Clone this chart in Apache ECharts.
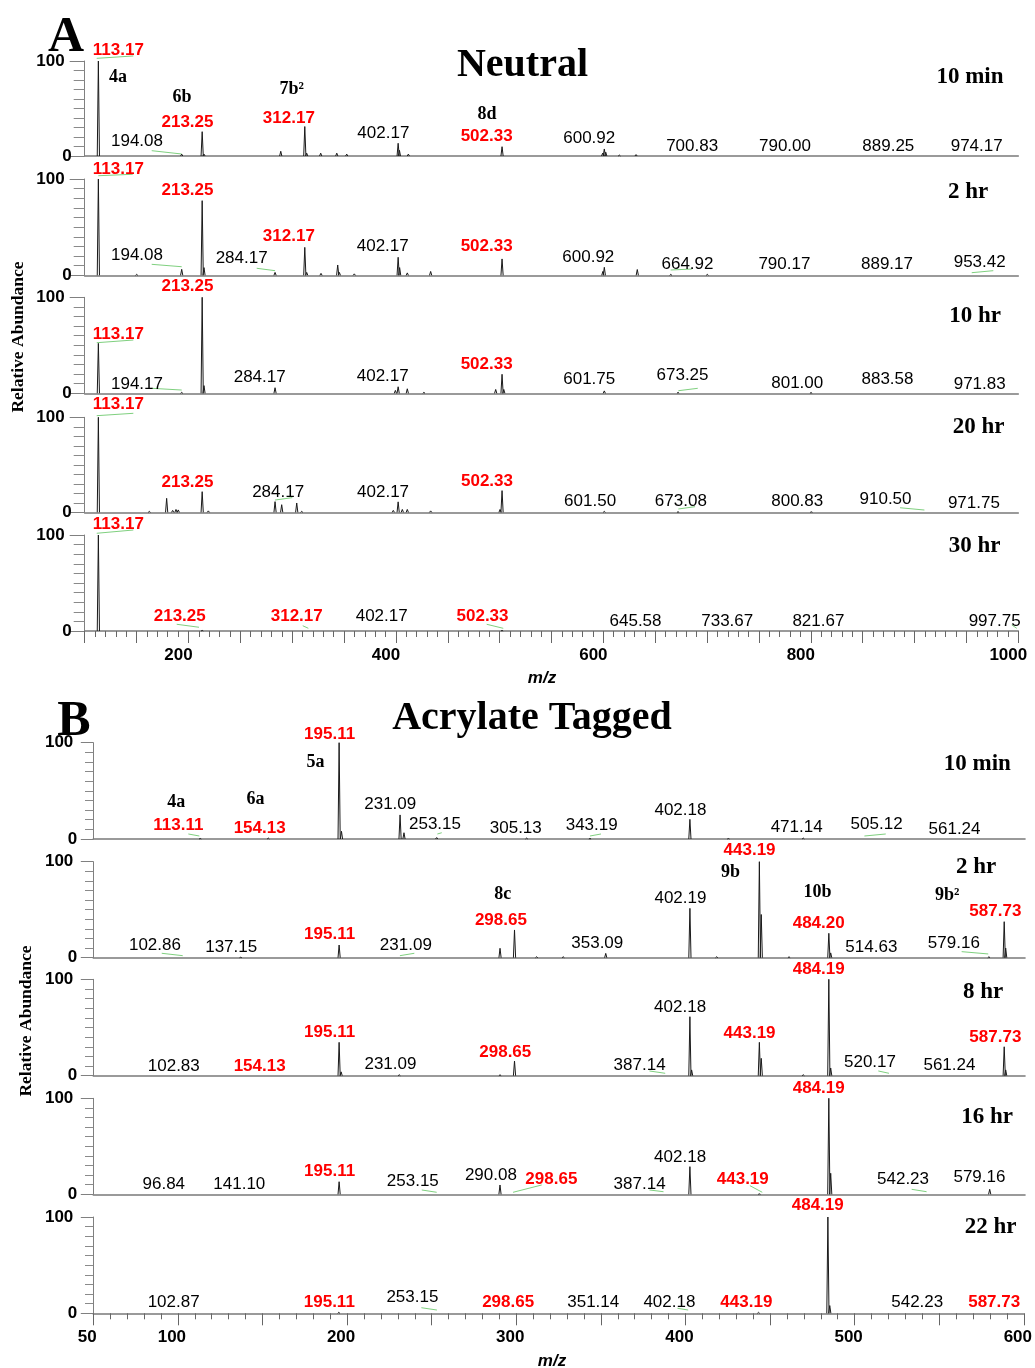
<!DOCTYPE html>
<html><head><meta charset="utf-8">
<script src="https://cdn.jsdelivr.net/npm/echarts@6/dist/echarts.min.js"></script>
<style>html,body{margin:0;padding:0;background:#fff}#c{width:1035px;height:1368px}</style>
</head><body><div id="c"></div>
<script>
// ---------------- DATA ----------------
// Panel A (Neutral) peaks: [m/z, relative abundance %]
const peaksA10min = [[113.17,100],[193.5,2],[213.25,25.6],[215,2],[289,5],[312.17,31],[314,3],[327.5,3],[343,3],[352.6,2],[402.17,13.4],[403.4,6],[412,2],[502.33,9.8],[599.3,3],[600.92,7.4],[602.3,4],[615.4,1],[631.5,1.5]];
const peaksA2hr = [[113.17,100],[150.1,1],[193.5,6.2],[213.25,77.5],[215,8],[283.5,3],[312.17,29],[314,3],[327.8,2],[343.9,10.7],[345.5,3],[359.9,1.5],[402.17,18.7],[403.6,8],[411,2.5],[433.5,4],[502.33,17],[599.5,4],[600.92,8.3],[632.7,6],[665,1],[700.2,1]];
const peaksA10hr = [[113.17,52],[193.5,1],[213.25,100],[215,8],[283.5,5.8],[399.5,3],[402.17,6.8],[411,4.7],[427,1],[496.2,4],[502.33,19.8],[504,4],[600.9,2.5],[672,1],[800.2,0.8]];
const peaksA20hr = [[113.17,100],[162.3,1],[179,14.7],[184.8,2],[188,3],[190.2,2.5],[213.25,21.7],[219.2,1.5],[283.5,11.2],[289.9,8],[304.4,9.8],[309.2,1],[397.5,2],[402.17,11],[406.2,3],[411,3],[433.5,1.5],[500.4,3],[502.33,22.8],[600.9,1],[672,0.5],[800.5,0.5]];
const peaksA30hr = [[113.17,100],[213.25,0.6],[502.33,0.6]];
// Panel B (Acrylate Tagged) peaks
const peaksB10min = [[113.11,0.5],[153.3,1],[195.11,100],[196.5,8],[231.09,25],[233.4,6.5],[252.7,1.5],[305.8,1],[343.2,0.5],[402.18,20.4],[424.9,0.5],[469.1,1]];
const peaksB2hr = [[137,0.5],[195.11,13.2],[290.1,9.8],[298.65,28.9],[311.7,1],[327.4,1],[352.5,4.5],[402.19,51.4],[418,1],[443.19,100],[444.3,45],[460.7,1],[484.2,25.4],[485.3,5],[578.7,1],[587.73,37.5],[588.6,10]];
const peaksB8hr = [[195.11,34.6],[196.3,4],[230.6,1],[290.1,1],[298.65,15.2],[402.18,61.2],[403.2,6],[443.19,34.6],[444.3,18],[469.1,1],[484.19,100],[485.3,8],[587.73,30],[588.6,6]];
const peaksB16hr = [[195.11,13.1],[290.08,9.7],[402.18,28.8],[443.19,0.5],[484.19,100],[485.3,21.9],[579.16,5.2]];
const peaksB22hr = [[195.11,1],[443.19,1],[484.19,100],[485.3,8]];

// Peak annotations: [text, m/z anchor, abundance anchor, kind] kind 0=plain, 1=red, 2=compound id
const labelsA10min = [['113.17',132.4,104.5,1],['4a',132.2,76.5,2],['6b',193.8,55.5,2],['213.25',199.1,29.2,1],['194.08',150.4,9.1,0],['7b²',299.6,64,2],['312.17',296.8,33.7,1],['402.17',387.9,17.5,0],['8d',487.8,37.9,2],['502.33',487.5,14,1],['600.92',586.4,12.6,0],['700.83',685.6,3.5,0],['790.00',775.1,3.5,0],['889.25',874.7,3.5,0],['974.17',959.9,3.5,0]];
const labelsA2hr = [['113.17',132.4,104.2,1],['213.25',199.1,81.6,1],['194.08',150.4,14.1,0],['284.17',251.3,11.7,0],['312.17',296.8,33.9,1],['402.17',387.3,23.5,0],['502.33',487.5,23.5,1],['600.92',585.5,12.5,0],['664.92',681.1,4.8,0],['790.17',774.5,4.8,0],['889.17',873.4,4.8,0],['953.42',962.8,7.3,0]];
const labelsA10hr = [['113.17',132.4,55.5,1],['213.25',199.1,104.8,1],['194.17',150.4,3.4,0],['284.17',268.7,10.4,0],['402.17',387.3,11,0],['502.33',487.5,24.3,1],['601.75',586.4,8.6,0],['673.25',676.3,12.1,0],['801.00',786.9,4.2,0],['883.58',873.9,8.6,0],['971.83',962.8,3.4,0]];
const labelsA20hr = [['113.17',132.4,107.7,1],['213.25',199.1,25.3,1],['284.17',286.5,14.7,0],['402.17',387.6,14.7,0],['502.33',487.8,26.6,1],['601.50',587.2,5.3,0],['673.08',674.7,5.3,0],['800.83',786.9,5.3,0],['910.50',872,7.7,0],['971.75',957.2,3.5,0]];
const labelsA30hr = [['113.17',132.4,104.5,1],['213.25',191.6,9,1],['312.17',304.4,9,1],['402.17',386.3,9,0],['502.33',483.5,9,1],['645.58',631,3.9,0],['733.67',719.4,3.9,0],['821.67',807.3,3.9,0],['997.75',977.2,3.9,0]];
const labelsB10min = [['4a',98.9,31.9,2],['6a',145.7,35.3,2],['5a',181.2,73.4,2],['113.11',100.2,7.6,1],['154.13',148.2,5.2,1],['195.11',189.5,102.8,1],['231.09',225.3,29.4,0],['253.15',251.7,8.6,0],['305.13',299.4,5.2,0],['343.19',344.2,7.6,0],['402.18',396.6,23.9,0],['471.14',465.2,5.9,0],['505.12',512.4,8.6,0],['561.24',558.4,4.2,0]];
const labelsB2hr = [['102.86',86.4,7,0],['137.15',131.4,4.5,0],['195.11',189.5,17.7,1],['231.09',234.5,6.3,0],['8c',291.7,60.1,2],['298.65',290.6,33,1],['353.09',347.5,8.7,0],['402.19',396.6,55.9,0],['9b',426.1,82.7,2],['443.19',437.4,105.2,1],['10b',477.5,61.9,2],['484.20',478.2,29.9,1],['514.63',509.3,4.5,0],['9b²',554.1,58.4,2],['579.16',558,8.7,0],['587.73',582.5,41.7,1]];
const labelsB8hr = [['102.83',97.5,3.5,0],['154.13',148.2,3.5,1],['195.11',189.5,38.8,1],['231.09',225.4,5.9,0],['298.65',293.2,18,1],['387.14',372.5,4.9,0],['402.18',396.4,64.7,0],['443.19',437.4,38.1,1],['484.19',478.2,103.7,1],['520.17',508.5,7.7,0],['561.24',555.4,4.9,0],['587.73',582.5,33.6,1]];
const labelsB16hr = [['96.84',91.6,4.5,0],['141.10',136.2,4.5,0],['195.11',189.5,17.3,1],['253.15',238.6,7.3,0],['290.08',284.7,13.1,0],['298.65',320.4,9.7,1],['387.14',372.5,4.5,0],['402.18',396.4,32.3,0],['443.19',433.4,9.7,1],['484.19',478.2,104.2,1],['542.23',528,9,0],['579.16',573.1,11.4,0]];
const labelsB22hr = [['102.87',97.5,5.2,0],['195.11',189.5,5.2,1],['253.15',238.6,10.4,0],['298.65',295.2,5.2,1],['351.14',345.5,5.2,0],['402.18',390.5,5.2,0],['443.19',436,5.2,1],['484.19',478.2,105.5,1],['542.23',537,5.2,0],['587.73',582.5,5.2,1]];

// Leader lines from annotations to peaks: [m/z1, ab1, m/z2, ab2]
const leadersA10min = [[111.6,102.8,146.9,105.3],[164.6,5.6,193.5,2.1]];
const leadersA2hr = [[113.1,103.4,146.3,104.9],[164.6,11.4,193.5,8.9],[265.8,7.3,283.5,4.8],[664.9,5.5,685.2,6.5],[955.1,2.7,975.9,4.8]];
const leadersA10hr = [[111.6,52.7,146.9,55.5],[164.6,5.2,193.5,3.4],[672.3,2.7,691,5.2]];
const leadersA20hr = [[111.6,101.7,146.9,104.2],[283.5,12.9,300.1,15.4],[672.3,3.5,688.4,5.9],[886,4.8,909.5,2.4]];
const leadersA30hr = [[111.6,101.8,146.9,105.2],[188.7,7,210.2,3.9],[310.2,5.5,315.6,2.8],[487.5,7,503.5,2.8],[993.7,6.3,998.5,2.8]];
const leadersB10min = [[106.1,5.2,112.6,3.1],[253.1,5.2,255.7,6.5],[343.2,3.1,349.7,5.2],[505.2,3.1,517.8,5.2]];
const leadersB2hr = [[90.4,4.6,102.8,2.1],[231,2.1,239.5,4.6],[562.6,6.3,578.3,3.9]];
const leadersB8hr = [[378.3,4.9,387.6,2.5],[513.4,4.9,519.7,2.5]];
const leadersB16hr = [[243.9,4.5,252.7,2.1],[297.8,2.1,314.7,9.7],[378.3,4.5,386.6,2.7],[437.6,9,444.9,2.1],[533.1,5.2,541.9,2.7]];
const leadersB22hr = [[243.9,5.8,253.1,3.4],[395.3,5.2,401.6,3.4]];

const timesA = ['10 min','2 hr','10 hr','20 hr','30 hr'];
const timesB = ['10 min','2 hr','8 hr','16 hr','22 hr'];
const xRangeA = [100, 1000];
const xRangeB = [50, 600];

// ---------------- LAYOUT ----------------
const SANS = "'Liberation Sans', Arial, sans-serif";
const SERIF = "'Liberation Serif', 'Times New Roman', serif";
const layoutA = {left:84.7, width:933.6, rows:[[61,95],[179,96.3],[297.3,96],[417.3,95],[535,96]],
  yMargin:13, hPad:7, majLen:15, minLen:11, xPad:20, timePos:[[970,77],[968,191.7],[975,316.3],[978.7,427.5],[974.7,546.3]]};
const layoutB = {left:93.3, width:931.7, rows:[[742.7,96.3],[861.7,96],[979.3,96.4],[1098.3,96],[1217,96.3]],
  yMargin:16, hPad:4, majLen:12.5, minLen:8.3, xPad:12, timePos:[[977.3,764],[976.2,867],[983.2,992],[987,1117.5],[990.5,1227.5]]};

const panelsA = [
  [peaksA10min,labelsA10min,leadersA10min],[peaksA2hr,labelsA2hr,leadersA2hr],[peaksA10hr,labelsA10hr,leadersA10hr],
  [peaksA20hr,labelsA20hr,leadersA20hr],[peaksA30hr,labelsA30hr,leadersA30hr]];
const panelsB = [
  [peaksB10min,labelsB10min,leadersB10min],[peaksB2hr,labelsB2hr,leadersB2hr],[peaksB8hr,labelsB8hr,leadersB8hr],
  [peaksB16hr,labelsB16hr,leadersB16hr],[peaksB22hr,labelsB22hr,leadersB22hr]];

const grid=[], xAxis=[], yAxis=[], series=[], graphic=[];

function spikeRender(params, api){
  const x = api.value(0), h = api.value(1);
  const p0 = api.coord([x,0]), p1 = api.coord([x,h]);
  return {type:'polyline', shape:{points:[[p0[0]-1.1,p0[1]],[p1[0],p1[1]],[p0[0]+1.1,p0[1]]]},
    style:{stroke:'#1a1a1a', fill:null, lineWidth:1}};
}
function leaderRender(params, api){
  const a = api.coord([api.value(0), api.value(1)]), b = api.coord([api.value(2), api.value(3)]);
  return {type:'line', shape:{x1:a[0],y1:a[1],x2:b[0],y2:b[1]}, style:{stroke:'#7fd07f', lineWidth:1}};
}
function makeLabelRender(arr){
  return function(params, api){
    const a = arr[params.dataIndex];
    const c = api.coord([a[1], a[2]]);
    let font, fill, off;
    if (a[3]===1){ font='bold 17px '+SANS; fill='#ff0000'; off=6.1; }
    else if (a[3]===0){ font='17px '+SANS; fill='#000'; off=6.1; }
    else { font='bold 18px '+SERIF; fill='#000'; off=6; }
    return {type:'text', x:c[0], y:c[1]-off, style:{text:a[0], font:font, fill:fill, align:'center', verticalAlign:'middle'}};
  };
}

function addPanel(panels, layout, xRange, times, isB){
  panels.forEach((p, k) => {
    const idx = grid.length;
    const last = k === panels.length-1;
    const row = layout.rows[k];
    grid.push({left:layout.left, top:row[0], width:layout.width, height:row[1], containLabel:false});
    xAxis.push({
      gridIndex:idx, type:'value', min:xRange[0], max:xRange[1], interval:50,
      axisLine:{show:true, onZero:false, lineStyle:{color:'#7a7a7a', width:1.6}},
      axisTick:{show:last, length:12, lineStyle:{color:'#666', width:1}},
      minorTick:{show:last, splitNumber:5, length:6, lineStyle:{color:'#666', width:1}},
      splitLine:{show:false}, minorSplitLine:{show:false},
      axisLabel:{show:last, margin:16, padding:[0,layout.xPad,0,0],
        fontFamily:SANS, fontWeight:'bold', fontSize:17, color:'#000',
        formatter: v => (isB ? (v===50 || v%100===0) : (v%200===0)) ? String(v) : ''}
    });
    yAxis.push({
      gridIndex:idx, type:'value', min:0, max:100, interval:100,
      axisLine:{show:true, onZero:false, lineStyle:{color:'#808080', width:1}},
      axisTick:{show:true, length:layout.majLen, lineStyle:{color:'#808080'}},
      minorTick:{show:true, splitNumber:10, length:layout.minLen, lineStyle:{color:'#8a8a8a'}},
      splitLine:{show:false}, minorSplitLine:{show:false},
      axisLabel:{margin:layout.yMargin, formatter: v => v===100 ? '{h|100}' : (v===0 ? '{z|0}' : ''),
        rich:{h:{fontFamily:SANS, fontWeight:'bold', fontSize:17, color:'#000', padding:[0,layout.hPad,0,0]},
              z:{fontFamily:SANS, fontWeight:'bold', fontSize:17, color:'#000'}}}
    });
    series.push({type:'custom', xAxisIndex:idx, yAxisIndex:idx, data:p[2], encode:{x:[0,2], y:[1,3]},
      renderItem:leaderRender, silent:true, z:2, animation:false});
    series.push({type:'custom', xAxisIndex:idx, yAxisIndex:idx, data:p[0], renderItem:spikeRender, silent:true, z:3, animation:false});
    series.push({type:'custom', xAxisIndex:idx, yAxisIndex:idx, data:p[1].map(a => [a[1], a[2]]),
      renderItem:makeLabelRender(p[1]), silent:true, z:4, animation:false});
    const tp = layout.timePos[k];
    graphic.push({type:'text', x:tp[0], y:tp[1], style:{text:times[k], font:'bold 23px '+SERIF, fill:'#000', align:'center', verticalAlign:'middle'}});
  });
}
addPanel(panelsA, layoutA, xRangeA, timesA, false);
addPanel(panelsB, layoutB, xRangeB, timesB, true);

graphic.push(
  {type:'text', x:66, y:38, style:{text:'A', font:'bold 50px '+SERIF, fill:'#000', align:'center', verticalAlign:'middle'}},
  {type:'text', x:522.5, y:66, style:{text:'Neutral', font:'bold 40px '+SERIF, fill:'#000', align:'center', verticalAlign:'middle'}},
  {type:'text', x:74, y:722, style:{text:'B', font:'bold 50px '+SERIF, fill:'#000', align:'center', verticalAlign:'middle'}},
  {type:'text', x:532, y:719, style:{text:'Acrylate Tagged', font:'bold 40px '+SERIF, fill:'#000', align:'center', verticalAlign:'middle'}},
  {type:'text', x:18, y:337, rotation:Math.PI/2, style:{text:'Relative Abundance', font:'bold 17.5px '+SERIF, fill:'#000', align:'center', verticalAlign:'middle'}},
  {type:'text', x:26, y:1021, rotation:Math.PI/2, style:{text:'Relative Abundance', font:'bold 17.5px '+SERIF, fill:'#000', align:'center', verticalAlign:'middle'}},
  {type:'text', x:542, y:678, style:{text:'m/z', font:'italic bold 17px '+SANS, fill:'#000', align:'center', verticalAlign:'middle'}},
  {type:'text', x:552, y:1361, style:{text:'m/z', font:'italic bold 17px '+SANS, fill:'#000', align:'center', verticalAlign:'middle'}}
);

const chart = echarts.init(document.getElementById('c'), null, {renderer:'canvas'});
chart.setOption({animation:false, backgroundColor:'#fff', grid, xAxis, yAxis, series, graphic});
</script></body></html>
